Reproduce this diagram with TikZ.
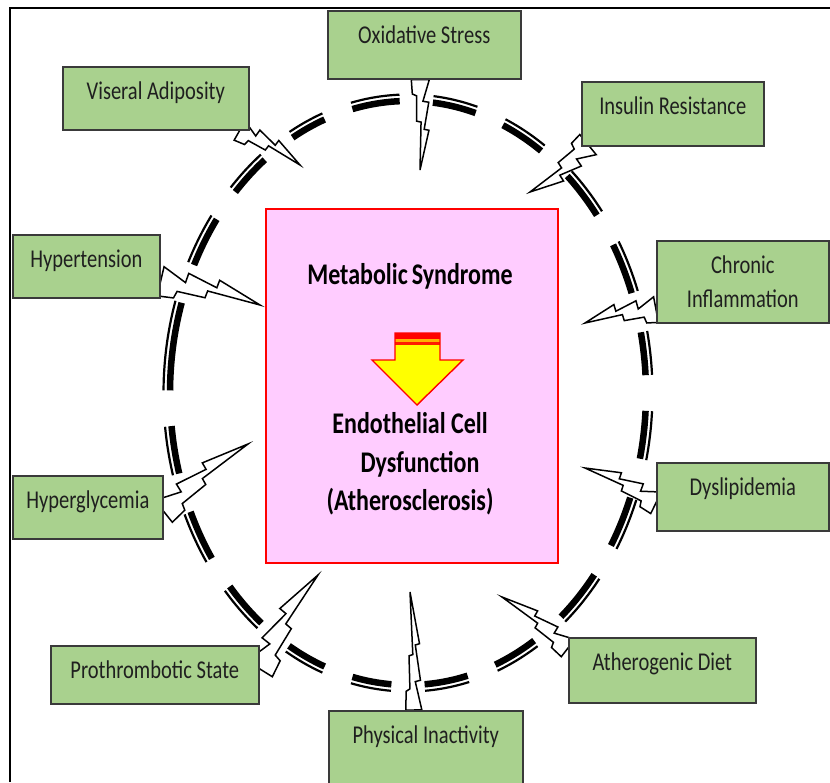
\documentclass[tikz,border=0pt]{standalone}
\usepackage{fontspec}
\setmainfont{Carlito}
\usepackage{graphicx}
\usepackage{xcolor}
\usepackage{tikz}
\usetikzlibrary{calc,backgrounds}

\definecolor{boxgreen}{HTML}{A9D18E}
\definecolor{boxedge}{HTML}{3A3A3A}
\definecolor{corepink}{HTML}{FFCCFF}
\definecolor{corered}{HTML}{FF0000}
\definecolor{arrowyellow}{HTML}{FFFF00}
\definecolor{arroworange}{HTML}{FFB000}

\newcommand{\stretchy}[1]{\scalebox{1}[1.25]{#1}}

\newcommand{\bolt}[3]{%
	\pgfmathsetmacro\boltA{#3}%
	\pgfmathsetmacro\boltB{0.3*#3}%
	\pgfmathsetmacro\boltC{0.95*#3}%
	\pgfmathsetmacro\boltD{0.45*#3}%
	\pgfmathsetmacro\boltE{0.98*#3}%
	\pgfmathsetmacro\boltF{0.1*#3}%
	\pgfmathsetmacro\boltG{-0.38*#3}%
	\pgfmathsetmacro\boltH{-0.4*#3}%
	\pgfmathsetmacro\boltI{-0.88*#3}%
	\pgfmathsetmacro\boltJ{-1*#3}%
	\draw[boltline] ($(#1)!\boltA pt!90:(#2)$)
		-- ($(#1)!0.24!(#2)!\boltB pt!90:(#2)$)
		-- ($(#1)!0.25!(#2)!\boltC pt!90:(#2)$)
		-- ($(#1)!0.55!(#2)!\boltD pt!90:(#2)$)
		-- ($(#1)!0.56!(#2)!\boltE pt!90:(#2)$)
		-- (#2)
		-- ($(#1)!0.47!(#2)!\boltF pt!90:(#2)$)
		-- ($(#1)!0.46!(#2)!\boltG pt!90:(#2)$)
		-- ($(#1)!0.18!(#2)!\boltH pt!90:(#2)$)
		-- ($(#1)!0.16!(#2)!\boltI pt!90:(#2)$)
		-- ($(#1)!\boltJ pt!90:(#2)$) -- cycle;
}

\begin{document}
\begin{tikzpicture}[x=1pt,y=-1pt,
	boxlook/.style={draw=boxedge, fill=boxgreen, line width=1.6pt, anchor=north west, inner xsep=4pt, inner ysep=3pt, font=\fontsize{20.5}{24}\selectfont, text=black!88},
	riskbox/.style={boxlook, text height=30pt, text depth=#1},
	corebox/.style={draw=corered, fill=corepink, line width=2.4pt, anchor=north west},
	coretext/.style={font=\bfseries\fontsize{24}{29}\selectfont, inner sep=0pt, text=black},
	ringthick/.style={line width=6.5pt},
	ringthin/.style={line width=2.2pt},
	boltline/.style={draw=black, fill=white, line width=1.5pt},
	arrowline/.style={draw=corered, line width=1.4pt, line join=miter},
	frameline/.style={line width=1.6pt}]

	\useasboundingbox (0,0) rectangle (830,782);

	\node[corebox, minimum width=292pt, minimum height=354pt] (core) at (265,208) {};
	\node[coretext] (msy) at (410,276) {\stretchy{Metabolic\,Syndrome}};
	\node[coretext, align=center, font=\bfseries\fontsize{24}{38.5}\selectfont] (ecd) at (410,464)
		{\stretchy{Endothelial Cell}\\\hspace*{20pt}\stretchy{Dysfunction}\\\stretchy{(Atherosclerosis)}};

	\node[riskbox=27pt, minimum width=186pt] (vis) at (62,66) {\stretchy{Viseral Adiposity}};
	\node[riskbox=32pt, minimum width=193pt] (oxi) at (327,10) {\stretchy{Oxidative Stress}};
	\node[riskbox=28pt, minimum width=182pt] (ins) at (581,81) {\stretchy{Insulin Resistance}};
	\node[boxlook, minimum width=172pt, minimum height=82pt, align=center, font=\fontsize{20.5}{34}\selectfont] (chr) at (656,240)
		{\stretchy{Chronic}\\\stretchy{Inflammation}};
	\node[riskbox=32pt, minimum width=172pt] (dys) at (656,462) {\stretchy{Dyslipidemia}};
	\node[riskbox=29pt, minimum width=187pt] (ath) at (568,637) {\stretchy{Atherogenic Diet}};
	\node[riskbox=44pt, minimum width=194pt] (phy) at (328,710) {\stretchy{Physical Inactivity}};
	\node[riskbox=22pt, minimum width=208pt] (pro) at (50,645) {\stretchy{Prothrombotic State}};
	\node[riskbox=27pt, minimum width=150pt] (hgl) at (12,475) {\stretchy{Hyperglycemia}};
	\node[riskbox=27pt, minimum width=147pt] (hyp) at (12,234) {\stretchy{Hypertension}};

	\coordinate (vis-b) at ([xshift=-10pt]vis.south east);
	\coordinate (oxi-b) at ([xshift=-4pt]oxi.south);
	\coordinate (ins-b) at ([shift={(7pt,2pt)}]ins.south west);
	\coordinate (chr-b) at ([yshift=14pt]chr.south west);
	\coordinate (dys-b) at ([yshift=-6pt]dys.west);
	\coordinate (ath-b) at ([yshift=-11pt]ath.north west);
	\coordinate (phy-b) at ([xshift=-12pt]phy.north);
	\coordinate (pro-b) at ([yshift=6pt]pro.east);
	\coordinate (hgl-b) at ([yshift=-4pt]hgl.east);
	\coordinate (hyp-b) at ([yshift=-15pt]hyp.east);

	\coordinate (vis-t) at (300,165);
	\coordinate (oxi-t) at (420,170);
	\coordinate (ins-t) at (530,192);
	\coordinate (chr-t) at (585,323);
	\coordinate (dys-t) at (585,468);
	\coordinate (ath-t) at (502,597);
	\coordinate (phy-t) at (410,592);
	\coordinate (pro-t) at (318,575);
	\coordinate (hgl-t) at (248,444);
	\coordinate (hyp-t) at (260,305);

	\begin{pgfonlayer}{background}
		\foreach \a/\b in {-103.5/-92, -84/-73.5, -66.5/-56, -48/-37.5, -30.5/-20, -12/-3.5, 3.5/13, 21/31.5, 38.5/50, 58/68.5,
			75.5/86, 94/103.5, 110.5/120, 128/138.5, 145.5/156, 164/173.5, 180.5/198, 206/216.5, 223.5/233, 241/249.5} {
			\draw[ringthick] plot[domain=\a:\b, samples=12, smooth] ({408+238*cos(\x)}, {393+292*sin(\x)});
			\draw[ringthin] plot[domain=\a:\b, samples=12, smooth] ({408+244.5*cos(\x)}, {393+298.5*sin(\x)});
		}

		\bolt{vis-b}{vis-t}{11}
		\bolt{oxi-b}{oxi-t}{9}
		\bolt{ins-b}{ins-t}{13}
		\bolt{chr-b}{chr-t}{-13}
		\bolt{dys-b}{dys-t}{-12}
		\bolt{ath-b}{ath-t}{-11}
		\bolt{phy-b}{phy-t}{-8}
		\bolt{pro-b}{pro-t}{15}
		\bolt{hgl-b}{hgl-t}{14}
		\bolt{hyp-b}{hyp-t}{15}
	\end{pgfonlayer}

	\fill[arrowyellow] (395,333) -- (440,333) -- (440,360) -- (463,360) -- (417,405) -- (372,360) -- (395,360) -- cycle;
	\fill[corered] (395,333) rectangle (440,338.5);
	\fill[arroworange] (395,338.5) rectangle (440,341.5);
	\fill[corered!85!arroworange] (395,341.5) rectangle (440,344.5);
	\draw[arrowline] (395,333) -- (440,333) -- (440,360) -- (463,360) -- (417,405) -- (372,360) -- (395,360) -- cycle;

	\draw[frameline] (10,782) -- (10,8) -- (830,8);
\end{tikzpicture}
\end{document}
